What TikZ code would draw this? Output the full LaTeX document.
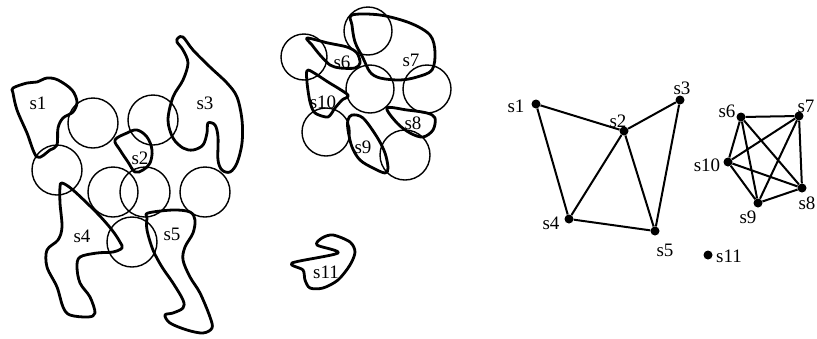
\documentclass[tikz,border=0pt]{standalone}
\usepackage{fontspec}
\setmainfont{Liberation Serif}
\begin{document}
\begin{tikzpicture}[x=1pt,y=-1pt,
  ring/.style={draw=black,line width=1.4pt},
  blob/.style={draw=black,line width=2.8pt,line join=round},
  lab/.style={inner sep=0pt,font=\fontsize{19}{21}\selectfont},
  vtx/.style={circle,fill=black,inner sep=0pt,minimum size=9pt},
  edge/.style={line width=2pt}]
\useasboundingbox (0,0) rectangle (817,338);
% ---- left cluster: circles
\foreach \p/\r in {{(93,123)}/25,{(153,120)}/25,{(57,170)}/25,{(113,192)}/25,{(145,192)}/25,{(205,192)}/25,{(132,242)}/25}
  \draw[ring] \p circle[radius=\r];
% blobs
\draw[blob] plot[smooth cycle,tension=0.55] coordinates {(13,88)(27,83)(37,82)(47,78)(58,80)(72,90)(77,102)(73,112)(63,118)(58,128)(57,145)(50,150)(37,157)(27,133)(17,110)(13,93)};
\draw[blob] plot[smooth cycle,tension=0.6] coordinates {(115,140)(127,133)(137,130)(147,137)(152,150)(150,163)(143,170)(135,172)(128,162)(120,150)};
\draw[blob] plot[smooth cycle,tension=0.55] coordinates {(178,38)(183,37)(193,50)(210,67)(227,83)(237,97)(242,120)(242,143)(237,163)(230,172)(222,170)(218,160)(218,137)(215,125)(208,123)(207,133)(203,145)(193,150)(183,148)(173,138)(168,120)(173,97)(183,80)(188,63)(183,50)(177,42)};
\draw[blob] plot[smooth cycle,tension=0.55] coordinates {(62,183)(73,190)(97,213)(112,230)(120,242)(122,248)(113,252)(97,253)(80,257)(77,267)(80,283)(90,297)(95,313)(88,317)(70,315)(63,307)(57,287)(47,267)(47,250)(58,240)(62,227)(60,203)(60,187)};
\draw[blob] plot[smooth cycle,tension=0.55] coordinates {(148,213)(173,210)(190,212)(195,220)(193,233)(185,247)(183,260)(190,277)(200,293)(210,317)(212,328)(203,333)(187,330)(170,323)(165,315)(173,313)(183,308)(183,300)(173,283)(162,267)(153,250)(147,230)(147,218)};
\node[lab] (l1) at (38,103) {s1};
\node[lab] (l2) at (140,158) {s2};
\node[lab] (l3) at (205,103) {s3};
\node[lab] (l4) at (82,236) {s4};
\node[lab] (l5) at (172,234) {s5};
% ---- middle cluster: circles
\foreach \p/\r in {{(304,57)}/23,{(368,31)}/24,{(370,89)}/24,{(427,89)}/24,{(326,132)}/24,{(405,155)}/25}
  \draw[ring] \p circle[radius=\r];
\draw[blob] plot[smooth cycle,tension=0.5] coordinates {(307,38)(328,43)(347,47)(357,53)(360,63)(355,68)(340,68)(330,65)(320,55)(312,45)};
\draw[blob] plot[smooth cycle,tension=0.55] coordinates {(352,15)(380,15)(410,23)(430,35)(435,52)(432,70)(417,77)(400,80)(380,78)(370,72)(363,58)(355,42)(352,25)};
\draw[blob] plot[smooth cycle,tension=0.45] coordinates {(308,70)(328,82)(348,95)(342,100)(335,108)(328,117)(315,113)(310,102)(307,82)};
\draw[blob] plot[smooth cycle,tension=0.55] coordinates {(387,108)(407,110)(427,113)(435,118)(433,130)(423,137)(410,133)(397,123)};
\draw[blob] plot[smooth cycle,tension=0.55] coordinates {(352,115)(363,118)(377,137)(385,153)(388,168)(385,173)(373,168)(360,160)(352,147)(348,130)(348,120)};
\draw[blob] plot[smooth cycle,tension=0.5] coordinates {(292,263)(338,253)(317,245)(322,238)(333,235)(350,242)(355,252)(350,265)(338,280)(323,288)(310,288)(305,280)(303,270)};
\node[lab] (l6) at (342,62) {s6};
\node[lab] (l7) at (411,60) {s7};
\node[lab] (l10) at (323,102) {s10};
\node[lab] (l8) at (413,123) {s8};
\node[lab] (l9) at (363,147) {s9};
\node[lab] (l11) at (326,272) {s11};
% ---- graph
\node[vtx] (g1) at (536,104) {};
\node[vtx] (g2) at (624,131) {};
\node[vtx] (g3) at (680,100) {};
\node[vtx] (g4) at (569,219) {};
\node[vtx] (g5) at (655,231) {};
\node[vtx] (g6) at (741,117) {};
\node[vtx] (g7) at (799,116) {};
\node[vtx] (g8) at (802,188) {};
\node[vtx] (g9) at (758,203) {};
\node[vtx] (g10) at (728,162) {};
\node[vtx] (g11) at (708,255) {};
\draw[edge] (g1)--(g2) (g1)--(g4) (g2)--(g3) (g2)--(g4) (g2)--(g5) (g3)--(g5) (g4)--(g5);
\draw[edge] (g6)--(g7) (g6)--(g10) (g6)--(g9) (g6)--(g8) (g7)--(g10) (g7)--(g9) (g7)--(g8) (g8)--(g10) (g8)--(g9) (g9)--(g10);
\node[lab] (t1) at (516,106) {s1};
\node[lab] (t2) at (618,121) {s2};
\node[lab] (t3) at (682,88) {s3};
\node[lab] (t4) at (551,223) {s4};
\node[lab] (t5) at (665,250) {s5};
\node[lab] (t6) at (727,111) {s6};
\node[lab] (t7) at (806,106) {s7};
\node[lab] (t8) at (807,203) {s8};
\node[lab] (t9) at (748,217) {s9};
\node[lab] (t10) at (707,165) {s10};
\node[lab] (t11) at (729,256) {s11};
\end{tikzpicture}
\end{document}
